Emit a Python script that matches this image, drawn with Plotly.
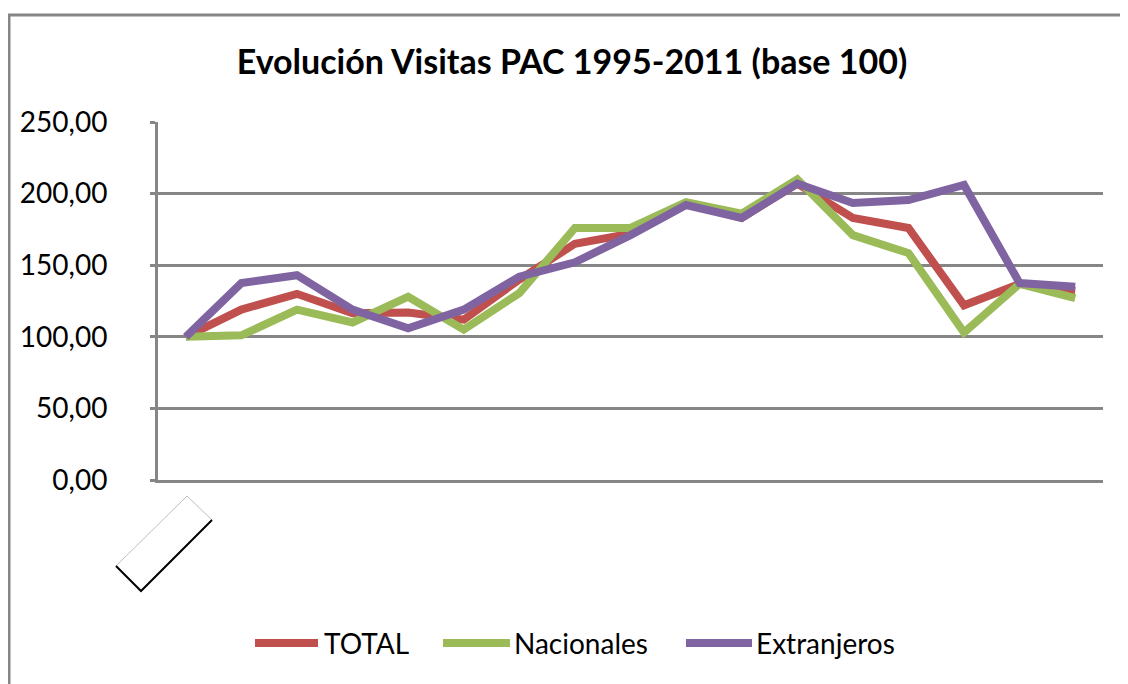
import plotly.graph_objects as go

years = [str(y) for y in range(1995, 2012)]
series_names = ["TOTAL", "Nacionales", "Extranjeros"]
total = [100, 119, 130, 116.5, 117, 112, 140, 165, 172, 193, 183, 207, 183, 176, 122, 137, 132]
nacionales = [100, 101, 119, 110, 128, 105, 130.5, 176, 176, 194, 186, 210, 171, 158.5, 103, 137, 127]
extranjeros = [100, 137.5, 143, 119, 106, 119, 142, 152, 171, 192, 183, 207, 193.5, 195.5, 206, 137.5, 135]
colors = ["#C0504D", "#9BBB59", "#8064A2"]
title_text = "Evolución Visitas PAC 1995-2011 (base 100)"

W, H = 1128, 684
OFF = 8  # page body margin offset
L, R, T, B = 158 - OFF, 1103 - OFF, 122 - OFF, 480 - OFF
FONT = "Lato"
GRID = "#868686"


def px(x):
    return (x - OFF - L) / (R - L)


def py(y):
    return (B - (y - OFF)) / (B - T)


fig = go.Figure()
for name, vals, col in zip(series_names, [total, nacionales, extranjeros], colors):
    fig.add_trace(go.Scatter(x=years, y=vals, name=name, mode="lines",
                             line=dict(color=col, width=8), showlegend=False))

shapes = []
# outer chart border (top and left)
shapes.append(dict(type="line", xref="paper", yref="paper", x0=px(8), x1=px(1140), y0=py(15), y1=py(15),
                   line=dict(color=GRID, width=3)))
shapes.append(dict(type="line", xref="paper", yref="paper", x0=px(9), x1=px(9), y0=py(15), y1=py(700),
                   line=dict(color=GRID, width=3)))
# rotated empty box
shapes.append(dict(type="path", xref="paper", yref="paper",
                   path=f"M{px(116)},{py(566)} L{px(187)},{py(496)} L{px(212)},{py(520)}",
                   line=dict(color="#BFBFBF", width=1)))
shapes.append(dict(type="path", xref="paper", yref="paper",
                   path=f"M{px(212)},{py(520)} L{px(141)},{py(591)} L{px(116)},{py(566)}",
                   line=dict(color="#000000", width=2)))

annotations = []
# manual legend
leg = [(255, 318, 322), (443, 510, 512), (686, 752, 754)]
for (x0, x1, xt), name, col in zip(leg, series_names, colors):
    shapes.append(dict(type="line", xref="paper", yref="paper", x0=px(x0), x1=px(x1), y0=py(643), y1=py(643),
                       line=dict(color=col, width=8)))
    annotations.append(dict(xref="paper", yref="paper", x=px(xt), y=py(643), xanchor="left", yanchor="middle",
                            text=name, showarrow=False, font=dict(family=FONT, size=28, color="#000000")))

fig.update_layout(
    width=W, height=H,
    margin=dict(l=L, r=W - R, t=T, b=H - B, pad=0),
    paper_bgcolor="white", plot_bgcolor="white",
    separators=",.",
    title=dict(text="<b>" + title_text + "</b>", xref="paper", x=px(572), xanchor="center",
               yref="container", y=1 - (62 - OFF) / H, yanchor="middle",
               font=dict(family=FONT, size=34, color="#000000")),
    shapes=shapes, annotations=annotations,
    xaxis=dict(type="category", range=[-0.5, 16.5], showticklabels=False, showgrid=False,
               zeroline=False, showline=True, linecolor=GRID, linewidth=3, ticks=""),
    yaxis=dict(range=[0, 250], dtick=50, tickformat=".2f", showgrid=True, gridcolor=GRID, gridwidth=3,
               zeroline=False, showline=True, linecolor=GRID, linewidth=3, ticks="outside",
               ticklen=5, tickwidth=3, tickcolor=GRID, ticklabelstandoff=37,
               tickfont=dict(family=FONT, size=28, color="#000000")),
)

fig.write_html("out.html")
